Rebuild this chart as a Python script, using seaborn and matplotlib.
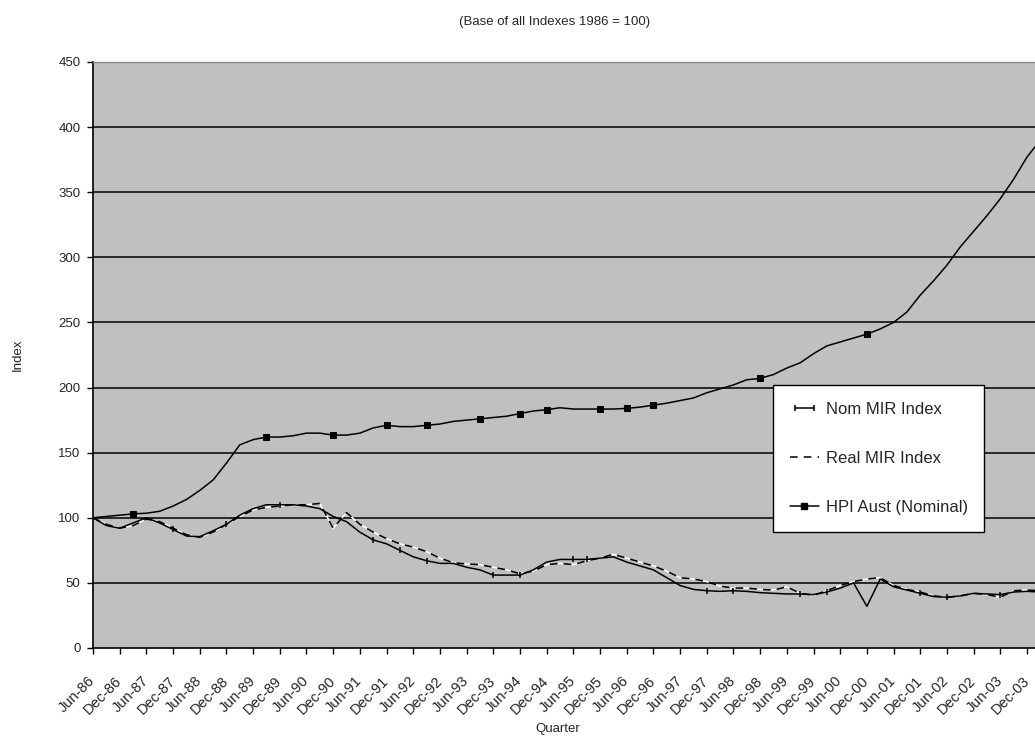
import matplotlib
matplotlib.use("Agg")
import matplotlib.pyplot as plt
import seaborn as sns
import numpy as np
from matplotlib.lines import Line2D
from matplotlib.legend_handler import HandlerLine2D

# ---------------- data (quarterly, Jun-86 .. Mar-04) ----------------
hpi_aust = [100, 101, 102, 103, 103.5, 105, 109, 114, 121, 129, 142, 156, 160, 162, 162, 163,
            165, 165, 163.5, 163.5, 165, 169, 171, 170, 170, 171, 172, 174, 175, 176, 177, 178,
            180, 182, 183, 184.5, 183.5, 183.5, 183.5, 183.5, 184, 185, 186.5, 188, 190, 192,
            196, 199, 202, 206, 207, 210, 215, 219, 226, 232, 235, 238, 241, 245, 250, 258,
            271, 282, 294, 308, 320, 332, 345, 360, 377, 390]
nom_mir = [100, 94, 92, 96, 100, 96, 91, 86, 85.5, 90, 95, 102, 107, 110, 110, 110,
           109, 107, 101, 97, 89, 83, 80, 75, 70, 67, 65, 65, 62, 60, 56, 56,
           56, 60, 66, 68, 68, 68, 69, 70, 66, 63, 60, 54, 48, 45,
           44, 43.5, 44, 43.5, 42.5, 42, 41.5, 41.5, 41, 43, 46, 50, 32, 53, 47, 44.5,
           42, 39.5, 39, 40, 42, 41.5, 41, 43, 43.5, 43]
real_mir = [100, 95, 92, 94, 99, 97, 92, 87, 85, 89, 95, 101, 106, 108, 109, 110,
            110, 111, 92, 104, 95, 89, 84, 80, 77.5, 74, 69, 65.5, 64.5, 64, 62, 60,
            57, 59, 64, 65, 64, 67, 69, 72, 69, 66, 63, 59, 54, 53,
            51, 47.5, 46, 46, 45, 44.5, 47, 42, 40.5, 44, 48, 51, 53, 54, 48, 45,
            43, 40, 39, 40, 42, 41, 39, 44, 44.5, 44]
quarter_pos = list(range(len(hpi_aust)))

tick_labels = ["Jun-86", "Dec-86", "Jun-87", "Dec-87", "Jun-88", "Dec-88", "Jun-89", "Dec-89",
               "Jun-90", "Dec-90", "Jun-91", "Dec-91", "Jun-92", "Dec-92", "Jun-93", "Dec-93",
               "Jun-94", "Dec-94", "Jun-95", "Dec-95", "Jun-96", "Dec-96", "Jun-97", "Dec-97",
               "Jun-98", "Dec-98", "Jun-99", "Dec-99", "Jun-00", "Dec-00", "Jun-01", "Dec-01",
               "Jun-02", "Dec-02", "Jun-03", "Dec-03"]
series_names = ["Nom MIR Index", "Real MIR Index", "HPI Aust (Nominal)"]
nom_marks = [6, 10, 14, 21, 23, 25, 30, 32, 36, 37, 46, 48, 53, 55, 62, 64, 68]
hpi_marks = [3, 13, 18, 22, 25, 29, 32, 34, 38, 40, 42, 50, 58]

# ---------------- style ----------------
sns.set_theme(style="ticks")
plt.rcParams['font.family'] = ['Liberation Sans', 'DejaVu Sans']

fig = plt.figure(figsize=(10.35, 7.38), dpi=100)
ax = fig.add_axes([93 / 1035, 1 - 648 / 738, 1 - 93 / 1035, (648 - 62) / 738])
ax.set_facecolor("#C0C0C0")

for v in range(50, 450, 50):
    ax.axhline(v, color="black", lw=1.1, zorder=1)

sns.lineplot(x=quarter_pos, y=real_mir, ax=ax, color="black", lw=1.1,
             linestyle=(0, (5, 4)), gapcolor="white", zorder=3, legend=False)
sns.lineplot(x=quarter_pos, y=nom_mir, ax=ax, color="black", lw=1.1, marker="|",
             markersize=5, markeredgewidth=1.1, markeredgecolor="black",
             markerfacecolor="black", markevery=nom_marks, zorder=4, legend=False)
sns.lineplot(x=quarter_pos, y=hpi_aust, ax=ax, color="black", lw=1.1, marker="s",
             markersize=4, markeredgecolor="black", markerfacecolor="black",
             markevery=hpi_marks, zorder=4, legend=False)

ax.set_xlim(0, 70.6)
ax.set_ylim(0, 450)
ax.set_yticks(range(0, 451, 50))
ax.set_xticks(range(0, 2 * len(tick_labels), 2))
ax.set_xticklabels(tick_labels, rotation=45, ha="right", va="center", rotation_mode="anchor")
ax.tick_params(axis="x", length=4, width=1, color="black", pad=18, labelsize=10.5)
ax.tick_params(axis="y", length=4, width=1, color="black", pad=5, labelsize=9.5)
ax.set_xlabel("")
ax.set_ylabel("")

for s in ["left", "bottom"]:
    ax.spines[s].set_color("black")
    ax.spines[s].set_linewidth(1.2)
ax.spines["top"].set_color("#8a8a8a")
ax.spines["top"].set_linewidth(1.0)
ax.spines["right"].set_visible(False)

h_nom = Line2D([], [], color="black", lw=1.1, marker="|", markersize=5, markeredgewidth=1.1)
h_real = Line2D([], [], color="black", lw=1.1, linestyle=(0, (5, 4)))
h_hpi = Line2D([], [], color="black", lw=1.1, marker="s", markersize=4)
leg = ax.legend([h_nom, h_real, h_hpi], series_names, loc="lower left",
                bbox_to_anchor=((773 - 93) / 942, (648 - 532) / 586),
                frameon=True, fancybox=False, framealpha=1, edgecolor="black",
                fontsize=12, labelspacing=2.05, handlelength=1.75, handletextpad=0.4,
                borderpad=1.0, borderaxespad=0, numpoints=1,
                handler_map={h_nom: HandlerLine2D(numpoints=2)})
leg.get_frame().set_linewidth(1.0)
leg.set_zorder(10)

fig.text(555 / 1035, 1 - 22 / 738, "(Base of all Indexes 1986 = 100)", ha="center", va="center",
         fontsize=9.5)
fig.text(558 / 1035, 1 - 729 / 738, "Quarter", ha="center", va="center", fontsize=9.5)
fig.text(18 / 1035, 1 - 355 / 738, "Index", ha="center", va="center", rotation=90, fontsize=9.5)

fig.savefig("out.png", dpi=100, facecolor="white")
